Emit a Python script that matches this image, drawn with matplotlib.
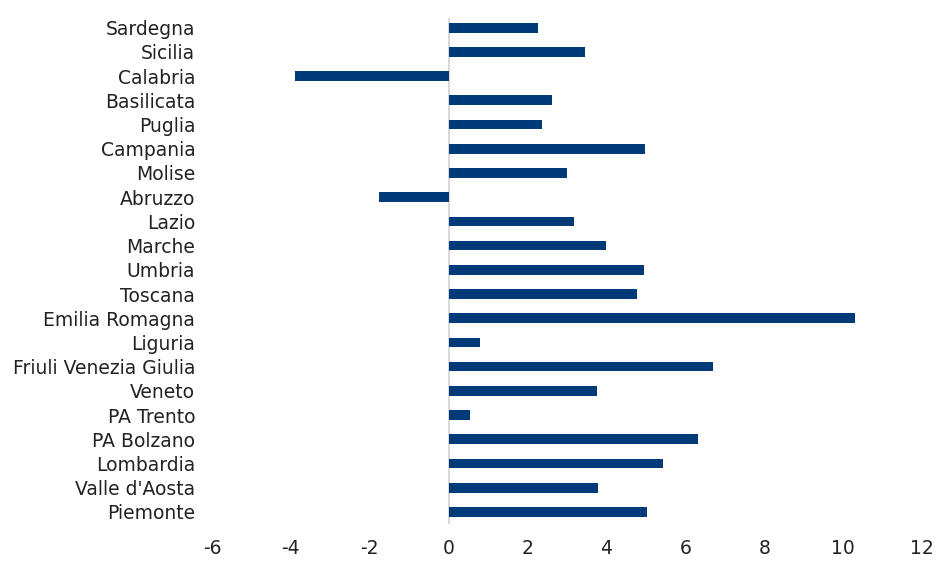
import numpy as np
import matplotlib.pyplot as plt

regions = ['Piemonte', "Valle d'Aosta", 'Lombardia', 'PA Bolzano', 'PA Trento',
           'Veneto', 'Friuli Venezia Giulia', 'Liguria', 'Emilia Romagna', 'Toscana',
           'Umbria', 'Marche', 'Lazio', 'Abruzzo', 'Molise', 'Campania', 'Puglia',
           'Basilicata', 'Calabria', 'Sicilia', 'Sardegna']
values = [5.02, 3.78, 5.43, 6.31, 0.53,
          3.75, 6.69, 0.79, 10.3, 4.77,
          4.94, 3.98, 3.19, -1.77, 2.99, 4.97, 2.36,
          2.61, -3.9, 3.45, 2.26]
xticks = [-6, -4, -2, 0, 2, 4, 6, 8, 10, 12]

plt.rcParams['font.family'] = ['DejaVu Sans']

fig = plt.figure(figsize=(9.36, 5.61), dpi=100)
ax = fig.add_axes([212/936, 37/561, 710/936, 506/561])

y = np.arange(len(regions))
ax.barh(y, values, height=0.4, color='#003a78', zorder=2)
ax.axvline(0, color='#d9d9d9', linewidth=1.5, zorder=1)

ax.set_xlim(-6, 12)
ax.set_ylim(-0.5, 20.4)
ax.set_xticks(xticks)
ax.set_xticklabels([str(t) for t in xticks])
ax.set_yticks(y)
ax.set_yticklabels(regions)
ax.tick_params(axis='both', length=0, labelsize=13.5, colors='#222222')
ax.tick_params(axis='x', pad=11)
ax.tick_params(axis='y', pad=12)
for s in ax.spines.values():
    s.set_visible(False)

fig.savefig('out.png', dpi=100)
